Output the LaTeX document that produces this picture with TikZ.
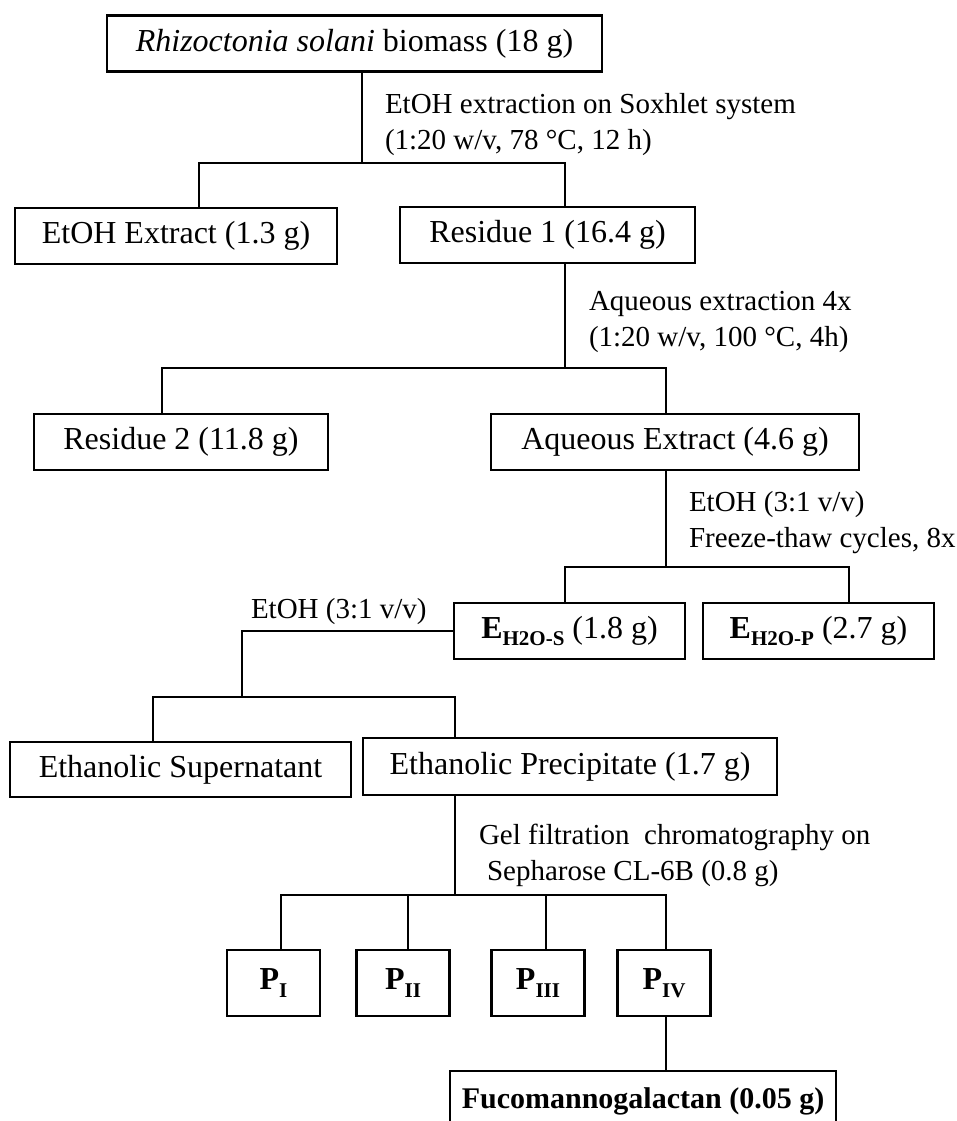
\documentclass[tikz,border=0pt]{standalone}
\usepackage{fontspec}
\setmainfont{Liberation Serif}
\newcommand{\subtag}[1]{\raisebox{-0.5ex}{\fontsize{21}{21}\selectfont\bfseries #1}}

\begin{document}
\begin{tikzpicture}
[x=1pt,y=-1pt,line width=2pt,
 every node/.style={inner sep=0pt},
 box/.style={draw,line width=2.6pt,minimum height=56pt,font=\fontsize{32}{38}\selectfont},
 pbox/.style={box,minimum width=93pt,minimum height=66pt,font=\fontsize{32}{38}\selectfont\bfseries},
 note/.style={anchor=west,align=left,font=\fontsize{29}{36}\selectfont}]
\useasboundingbox (0,0) rectangle (957,1121);
\node[box,minimum width=495pt] (bio) at (354.5,43.5) {\textit{Rhizoctonia solani} biomass (18 g)};
\node[box,minimum width=322pt] (ext) at (176,236) {EtOH Extract (1.3 g)};
\node[box,minimum width=295pt] (res1) at (547.5,235) {Residue 1 (16.4 g)};
\node[box,minimum width=294pt] (res2) at (181,442) {Residue 2 (11.8 g)};
\node[box,minimum width=368pt] (aq) at (675,442) {Aqueous Extract (4.6 g)};
\node[box,minimum width=231pt] (es) at (569.5,631) {\textbf{E}\subtag{H2O-S} (1.8 g)};
\node[box,minimum width=231pt] (ep) at (818.5,631) {\textbf{E}\subtag{H2O-P} (2.7 g)};
\node[box,minimum width=341pt,minimum height=55pt] (sup) at (180.5,769.5) {Ethanolic Supernatant};
\node[box,minimum width=414pt,minimum height=57pt] (prec) at (570,766.5) {Ethanolic Precipitate (1.7 g)};
\node[pbox] (p1) at (273.5,983) {P\subtag{I}};
\node[pbox] (p2) at (403,983) {P\subtag{II}};
\node[pbox] (p3) at (538,983) {P\subtag{III}};
\node[pbox] (p4) at (664,983) {P\subtag{IV}};
\node[box,minimum width=386pt,minimum height=60pt,font=\fontsize{30}{36}\selectfont\bfseries] (fuco) at (643,1101) {Fucomannogalactan (0.05 g)};
\node[note] (l1) at (384,125) {EtOH extraction on Soxhlet system\\(1:20 w/v, 78 °C, 12 h)};
\node[note] (l2) at (588,322) {Aqueous extraction 4x\\(1:20 w/v, 100 °C, 4h)};
\node[note] (l3) at (688,523) {EtOH (3:1 v/v)\\Freeze-thaw cycles, 8x};
\node[note] (l4) at (250,612) {EtOH (3:1 v/v)};
\node[note] (l5) at (478,855) {Gel filtration\ \ chromatography on\\\hspace*{8pt}Sepharose CL-6B (0.8 g)};
\coordinate (a0) at (362,163);
\coordinate (a1) at (199,163);
\coordinate (a2) at (565,163);
\coordinate (b1) at (162,368);
\coordinate (b2) at (666,368);
\coordinate (c1) at (565,567);
\coordinate (c2) at (849,567);
\coordinate (d0) at (242,697);
\coordinate (d1) at (153,697);
\coordinate (d2) at (455,697);
\coordinate (e1) at (281,895);
\coordinate (e4) at (666,895);
\draw (a0 |- bio.south) -- (a0);
\draw (a1 |- ext.north) -- (a1) -- (a2) -- (a2 |- res1.north);
\draw (a2 |- res1.south) -- (a2 |- b1);
\draw (b1 |- res2.north) -- (b1) -- (b2) -- (b2 |- aq.north);
\draw (b2 |- aq.south) -- (b2 |- c1);
\draw (c1 |- es.north) -- (c1) -- (c2) -- (c2 |- ep.north);
\draw (es.west) -| (d0);
\draw (d1 |- sup.north) -- (d1) -- (d2) -- (d2 |- prec.north);
\draw (d2 |- prec.south) -- (d2 |- e1);
\draw (e1 |- p1.north) -- (e1) -- (e4) -- (e4 |- p4.north);
\draw (p2.north -| 408,0) -- (408,895);
\draw (p3.north -| 546,0) -- (546,895);
\draw (p4.south -| e4) -- (e4 |- fuco.north);
\end{tikzpicture}
\end{document}
